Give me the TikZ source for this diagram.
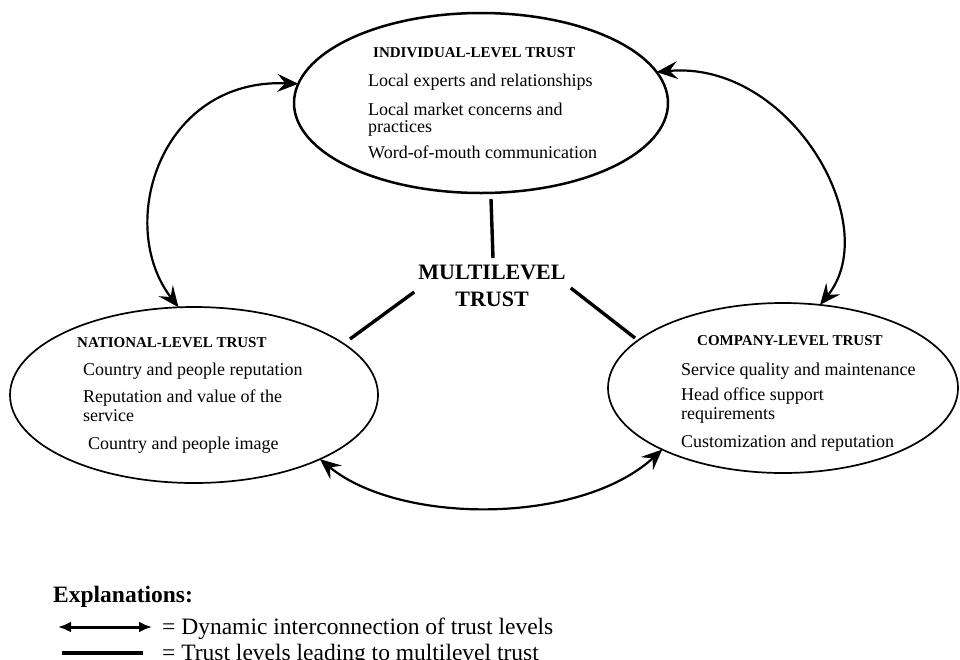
\documentclass[tikz,border=0pt]{standalone}
\usepackage{fontspec}
\setmainfont{Liberation Serif}
\usetikzlibrary{shapes.geometric,arrows.meta}
\begin{document}
\begin{tikzpicture}[x=1pt,y=-1pt,
  lvl/.style={draw,ellipse,inner sep=0pt,outer sep=0pt},
  head/.style={anchor=base west,inner sep=0pt,font=\fontsize{15}{17}\selectfont\bfseries},
  item/.style={anchor=base west,inner sep=0pt,font=\fontsize{18}{20}\selectfont},
  legtxt/.style={anchor=base west,inner sep=0pt,font=\fontsize{23.5}{26}\selectfont},
  tip/.style={},
  dyn/.style={line width=2.2pt,{Stealth[length=21pt,width=18pt,inset=8pt]}-{Stealth[length=21pt,width=18pt,inset=8pt]}},
  lead/.style={line width=3.4pt},
  legarrow/.style={line width=3pt,{Latex[length=13pt,width=11pt]}-{Latex[length=13pt,width=11pt]}}]
\useasboundingbox (0,0) rectangle (960,659);

% trust-level ellipses
\node[lvl,line width=2.5pt,minimum width=374pt,minimum height=180pt] (T) at (481,103) {};
\node[lvl,line width=1.7pt,minimum width=368pt,minimum height=176pt] (N) at (194,395) {};
\node[lvl,line width=1.7pt,minimum width=350pt,minimum height=170pt] (R) at (783,388) {};

% individual level
\node[head] (th) at (373,57) {INDIVIDUAL-LEVEL TRUST};
\node[item] (t1) at (368,86) {Local experts and relationships};
\node[item] (t2) at (368,115) {Local market concerns and};
\node[item] (t2b) at (368,132) {practices};
\node[item] (t3) at (368,158) {Word-of-mouth communication};

% national level
\node[head] (nh) at (77,347) {NATIONAL-LEVEL TRUST};
\node[item] (n1) at (83,375) {Country and people reputation};
\node[item] (n2) at (83,402) {Reputation and value of the};
\node[item] (n2b) at (83,421) {service};
\node[item] (n3) at (88,449) {Country and people image};

% company level
\node[head] (rh) at (697,345) {COMPANY-LEVEL TRUST};
\node[item] (r1) at (681,375) {Service quality and maintenance};
\node[item] (r2) at (681,400) {Head office support};
\node[item] (r2b) at (681,419) {requirements};
\node[item] (r3) at (681,447) {Customization and reputation};

% centre
\node[inner sep=0pt,align=center,font=\fontsize{22}{27}\selectfont\bfseries] (M) at (492,286) {MULTILEVEL\\TRUST};

% lines to multilevel trust
\draw[lead] ([shift={(10pt,-6pt)}]T.south) -- ([shift={(1pt,7pt)}]M.north);
\draw[lead] ([shift={(-4pt,-6pt)}]M.west) -- ([shift={(-28pt,56pt)}]N.east);
\draw[lead] ([shift={(5pt,-2pt)}]M.east) -- ([shift={(27pt,50pt)}]R.west);

% dynamic interconnections
\draw[dyn] (T.174) .. controls (160,78) and (115,225) .. (N.100);
\draw[dyn] (T.10) .. controls (790,60) and (885,225) .. (R.66);
\draw[dyn] (N.-27) .. controls (400,525) and (580,525) .. (R.-153);

% legend
\node[legtxt,font=\fontsize{23.5}{26}\selectfont\bfseries] (E) at (53,602) {Explanations:};
\coordinate (la1) at (58,627);
\coordinate (la2) at (152,627);
\draw[legarrow] (la1) -- (la2);
\node[legtxt] (L1) at (162,634) {= Dynamic interconnection of trust levels};
\coordinate (lb1) at (62,653);
\coordinate (lb2) at (143,653);
\draw[lead] (lb1) -- (lb2);
\node[legtxt] (L2) at (162,660) {= Trust levels leading to multilevel trust};
\end{tikzpicture}
\end{document}
